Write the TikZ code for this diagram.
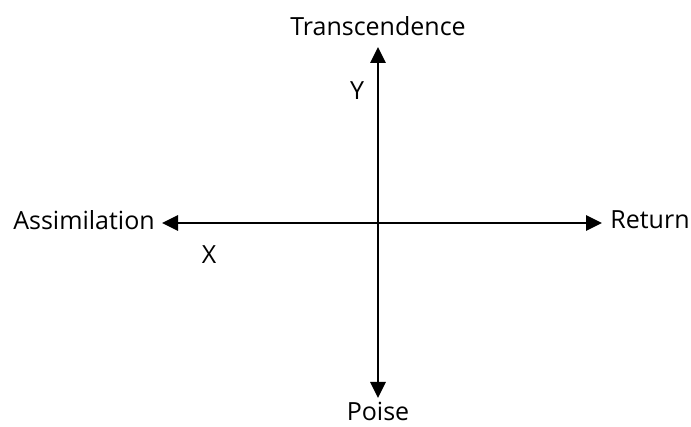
\documentclass[tikz,border=0pt]{standalone}
\usepackage{fontspec}
\setmainfont{Open Sans}
\usetikzlibrary{arrows.meta}
\begin{document}
\begin{tikzpicture}[x=1pt,y=-1pt,
  lbl/.style={inner sep=0pt,font=\fontsize{25}{28}\selectfont},
  axis/.style={line width=2.8pt,{Triangle[length=16pt,width=15pt]}-{Triangle[length=16pt,width=15pt]}}]
\useasboundingbox (0,0) rectangle (691,427);
\coordinate (top) at (378,47);
\coordinate (bot) at (378,398);
\coordinate (left) at (162,223);
\coordinate (right) at (602,223);
\draw[axis] (bot) -- (top);
\draw[axis] (left) -- (right);
\node[lbl] (trans) at (378,26) {Transcendence};
\node[lbl] (poise) at (378,411) {Poise};
\node[lbl] (assim) at (84,220) {Assimilation};
\node[lbl] (ret) at (650,220) {Return};
\node[lbl] (ylab) at (357,91) {Y};
\node[lbl] (xlab) at (209,255) {X};
\end{tikzpicture}
\end{document}
